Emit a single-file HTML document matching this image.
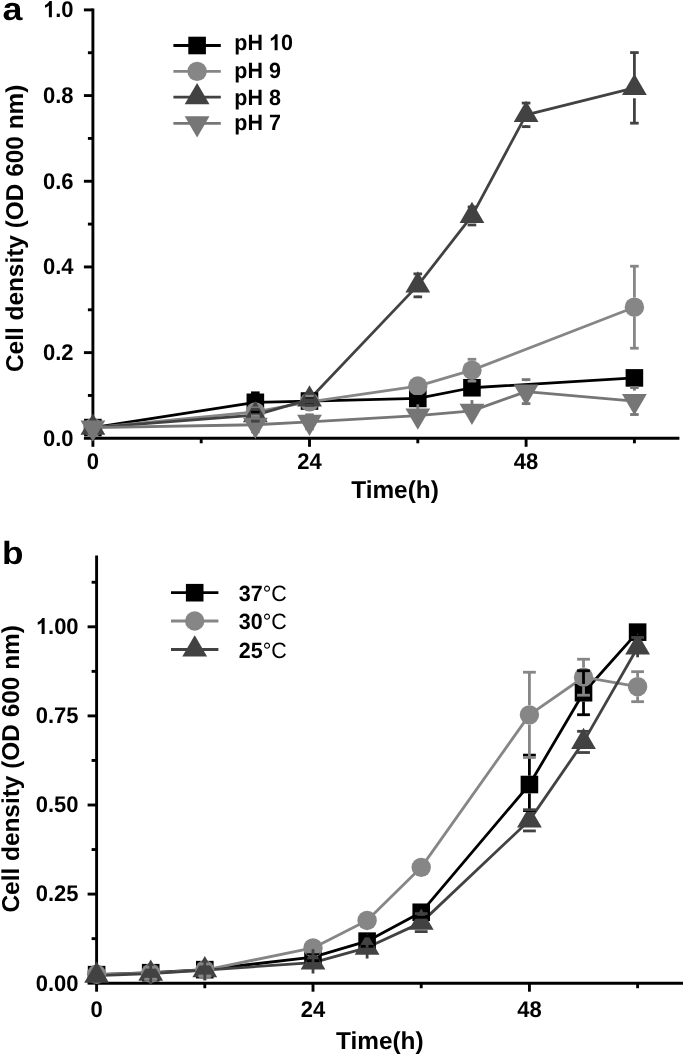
<!DOCTYPE html>
<html><head><meta charset="utf-8"><style>
html,body{margin:0;padding:0;background:#fff;}
svg{display:block;filter:grayscale(1);}
text{font-family:"Liberation Sans",sans-serif;fill:#000;text-rendering:geometricPrecision;}
.tl{font-size:22px;font-weight:bold;}
.lg{font-size:21.5px;font-weight:bold;}
.lgb{font-size:21.5px;font-weight:normal;}
.at{font-size:24.4px;font-weight:bold;}
.pl{font-size:32px;font-weight:bold;}
</style></head><body>
<svg width="685" height="1056" viewBox="0 0 685 1056">
<text transform="translate(2.6,19.9) scale(1.12,1)" class="pl">a</text>
<text transform="translate(2.0,564.3) scale(1.1,1)" class="pl">b</text>
<line x1="92.9" y1="8.6" x2="92.9" y2="439.75" stroke="#000" stroke-width="2.9"/>
<line x1="91.45" y1="438.3" x2="679.4" y2="438.3" stroke="#000" stroke-width="2.9"/>
<line x1="83.9" y1="438.3" x2="92.9" y2="438.3" stroke="#000" stroke-width="2.9"/>
<line x1="83.9" y1="352.62" x2="92.9" y2="352.62" stroke="#000" stroke-width="2.9"/>
<line x1="83.9" y1="266.94" x2="92.9" y2="266.94" stroke="#000" stroke-width="2.9"/>
<line x1="83.9" y1="181.26" x2="92.9" y2="181.26" stroke="#000" stroke-width="2.9"/>
<line x1="83.9" y1="95.58" x2="92.9" y2="95.58" stroke="#000" stroke-width="2.9"/>
<line x1="83.9" y1="9.9" x2="92.9" y2="9.9" stroke="#000" stroke-width="2.9"/>
<line x1="87.9" y1="395.46" x2="92.9" y2="395.46" stroke="#000" stroke-width="2.9"/>
<line x1="87.9" y1="309.78" x2="92.9" y2="309.78" stroke="#000" stroke-width="2.9"/>
<line x1="87.9" y1="224.1" x2="92.9" y2="224.1" stroke="#000" stroke-width="2.9"/>
<line x1="87.9" y1="138.42" x2="92.9" y2="138.42" stroke="#000" stroke-width="2.9"/>
<line x1="87.9" y1="52.74" x2="92.9" y2="52.74" stroke="#000" stroke-width="2.9"/>
<line x1="92.9" y1="438.3" x2="92.9" y2="446.8" stroke="#000" stroke-width="2.9"/>
<text transform="translate(92.9,469) scale(1,1.03)" text-anchor="middle" class="tl">0</text>
<line x1="309.5" y1="438.3" x2="309.5" y2="446.8" stroke="#000" stroke-width="2.9"/>
<text transform="translate(309.5,469) scale(1,1.03)" text-anchor="middle" class="tl">24</text>
<line x1="526.1" y1="438.3" x2="526.1" y2="446.8" stroke="#000" stroke-width="2.9"/>
<text transform="translate(526.1,469) scale(1,1.03)" text-anchor="middle" class="tl">48</text>
<line x1="201.2" y1="438.3" x2="201.2" y2="443.3" stroke="#000" stroke-width="2.9"/>
<line x1="417.8" y1="438.3" x2="417.8" y2="443.3" stroke="#000" stroke-width="2.9"/>
<line x1="634.4" y1="438.3" x2="634.4" y2="443.3" stroke="#000" stroke-width="2.9"/>
<text transform="translate(73.6,445.6) scale(1,1.03)" text-anchor="end" class="tl">0.0</text>
<text transform="translate(73.6,359.92) scale(1,1.03)" text-anchor="end" class="tl">0.2</text>
<text transform="translate(73.6,274.24) scale(1,1.03)" text-anchor="end" class="tl">0.4</text>
<text transform="translate(73.6,188.56) scale(1,1.03)" text-anchor="end" class="tl">0.6</text>
<text transform="translate(73.6,102.88) scale(1,1.03)" text-anchor="end" class="tl">0.8</text>
<path d="M825 0H544V1059Q390 915 181 846V1101Q291 1137 420 1238Q549 1339 597 1466H825Z" transform="translate(43.02,17.2) scale(0.010742,-0.011064)"/><text transform="translate(55.25,17.2) scale(1,1.03)" class="tl">.0</text>
<line x1="96.6" y1="555.6" x2="96.6" y2="984.65" stroke="#000" stroke-width="2.9"/>
<line x1="95.15" y1="983.2" x2="683" y2="983.2" stroke="#000" stroke-width="2.9"/>
<line x1="87.6" y1="983.2" x2="96.6" y2="983.2" stroke="#000" stroke-width="2.9"/>
<line x1="87.6" y1="894.1" x2="96.6" y2="894.1" stroke="#000" stroke-width="2.9"/>
<line x1="87.6" y1="805" x2="96.6" y2="805" stroke="#000" stroke-width="2.9"/>
<line x1="87.6" y1="715.9" x2="96.6" y2="715.9" stroke="#000" stroke-width="2.9"/>
<line x1="87.6" y1="626.8" x2="96.6" y2="626.8" stroke="#000" stroke-width="2.9"/>
<line x1="91.6" y1="938.65" x2="96.6" y2="938.65" stroke="#000" stroke-width="2.9"/>
<line x1="91.6" y1="849.55" x2="96.6" y2="849.55" stroke="#000" stroke-width="2.9"/>
<line x1="91.6" y1="760.45" x2="96.6" y2="760.45" stroke="#000" stroke-width="2.9"/>
<line x1="91.6" y1="671.35" x2="96.6" y2="671.35" stroke="#000" stroke-width="2.9"/>
<line x1="91.6" y1="582.25" x2="96.6" y2="582.25" stroke="#000" stroke-width="2.9"/>
<line x1="96.6" y1="983.2" x2="96.6" y2="991.7" stroke="#000" stroke-width="2.9"/>
<text transform="translate(96.6,1016.8) scale(1,1.03)" text-anchor="middle" class="tl">0</text>
<line x1="313.01" y1="983.2" x2="313.01" y2="991.7" stroke="#000" stroke-width="2.9"/>
<text transform="translate(313.01,1016.8) scale(1,1.03)" text-anchor="middle" class="tl">24</text>
<line x1="529.42" y1="983.2" x2="529.42" y2="991.7" stroke="#000" stroke-width="2.9"/>
<text transform="translate(529.42,1016.8) scale(1,1.03)" text-anchor="middle" class="tl">48</text>
<line x1="204.8" y1="983.2" x2="204.8" y2="988.2" stroke="#000" stroke-width="2.9"/>
<line x1="421.21" y1="983.2" x2="421.21" y2="988.2" stroke="#000" stroke-width="2.9"/>
<line x1="637.62" y1="983.2" x2="637.62" y2="988.2" stroke="#000" stroke-width="2.9"/>
<text transform="translate(78.6,990.5) scale(1,1.03)" text-anchor="end" class="tl">0.00</text>
<text transform="translate(78.6,901.4) scale(1,1.03)" text-anchor="end" class="tl">0.25</text>
<text transform="translate(78.6,812.3) scale(1,1.03)" text-anchor="end" class="tl">0.50</text>
<text transform="translate(78.6,723.2) scale(1,1.03)" text-anchor="end" class="tl">0.75</text>
<path d="M825 0H544V1059Q390 915 181 846V1101Q291 1137 420 1238Q549 1339 597 1466H825Z" transform="translate(35.79,634.1) scale(0.010742,-0.011064)"/><text transform="translate(48.02,634.1) scale(1,1.03)" class="tl">.00</text>
<polyline points="92.9,427.59 255.35,402.31 309.5,401.03 417.8,398.46 471.95,387.75 634.4,377.9" fill="none" stroke="#000000" stroke-width="2.8" stroke-linejoin="round"/>
<polyline points="92.9,427.59 255.35,411.95 309.5,401.89 417.8,386.04 471.95,370.18 634.4,307.21" fill="none" stroke="#868686" stroke-width="2.8" stroke-linejoin="round"/>
<polyline points="92.9,427.59 255.35,415.17 309.5,399.32 417.8,285.36 471.95,215.96 526.1,114.86 634.4,87.87" fill="none" stroke="#424242" stroke-width="2.8" stroke-linejoin="round"/>
<polyline points="92.9,427.59 255.35,424.76 309.5,421.81 417.8,415.59 471.95,410.88 526.1,391.6 634.4,401.03" fill="none" stroke="#767676" stroke-width="2.8" stroke-linejoin="round"/>
<rect x="84.1" y="418.79" width="17.6" height="17.6" fill="#000000"/>
<rect x="246.55" y="393.51" width="17.6" height="17.6" fill="#000000"/>
<rect x="300.7" y="392.23" width="17.6" height="17.6" fill="#000000"/>
<rect x="409" y="389.66" width="17.6" height="17.6" fill="#000000"/>
<rect x="463.15" y="378.95" width="17.6" height="17.6" fill="#000000"/>
<rect x="625.6" y="369.1" width="17.6" height="17.6" fill="#000000"/>
<circle cx="92.9" cy="427.59" r="9.7" fill="#868686"/>
<circle cx="255.35" cy="411.95" r="9.7" fill="#868686"/>
<circle cx="309.5" cy="401.89" r="9.7" fill="#868686"/>
<circle cx="417.8" cy="386.04" r="9.7" fill="#868686"/>
<circle cx="471.95" cy="370.18" r="9.7" fill="#868686"/>
<circle cx="634.4" cy="307.21" r="9.7" fill="#868686"/>
<polygon points="92.9,413.46 105.3,434.66 80.5,434.66" fill="#424242"/>
<polygon points="255.35,401.03 267.75,422.23 242.95,422.23" fill="#424242"/>
<polygon points="309.5,385.18 321.9,406.38 297.1,406.38" fill="#424242"/>
<polygon points="417.8,271.23 430.2,292.43 405.4,292.43" fill="#424242"/>
<polygon points="471.95,201.83 484.35,223.03 459.55,223.03" fill="#424242"/>
<polygon points="526.1,100.72 538.5,121.92 513.7,121.92" fill="#424242"/>
<polygon points="634.4,73.74 646.8,94.94 622,94.94" fill="#424242"/>
<polygon points="80.5,420.52 105.3,420.52 92.9,441.72" fill="#767676"/>
<polygon points="242.95,417.7 267.75,417.7 255.35,438.9" fill="#767676"/>
<polygon points="297.1,414.74 321.9,414.74 309.5,435.94" fill="#767676"/>
<polygon points="405.4,408.53 430.2,408.53 417.8,429.73" fill="#767676"/>
<polygon points="459.55,403.82 484.35,403.82 471.95,425.02" fill="#767676"/>
<polygon points="513.7,384.54 538.5,384.54 526.1,405.74" fill="#767676"/>
<polygon points="622,393.96 646.8,393.96 634.4,415.16" fill="#767676"/>
<line x1="255.35" y1="393.51" x2="255.35" y2="392.81" stroke="#000000" stroke-width="2.8"/><line x1="251.05" y1="392.81" x2="259.65" y2="392.81" stroke="#000000" stroke-width="2.8"/><line x1="255.35" y1="411.11" x2="255.35" y2="411.81" stroke="#000000" stroke-width="2.8"/><line x1="251.05" y1="411.81" x2="259.65" y2="411.81" stroke="#000000" stroke-width="2.8"/>
<line x1="305.2" y1="397.03" x2="313.8" y2="397.03" stroke="#000000" stroke-width="2.8"/><line x1="305.2" y1="405.03" x2="313.8" y2="405.03" stroke="#000000" stroke-width="2.8"/>
<line x1="413.5" y1="396.46" x2="422.1" y2="396.46" stroke="#000000" stroke-width="2.8"/><line x1="413.5" y1="400.46" x2="422.1" y2="400.46" stroke="#000000" stroke-width="2.8"/>
<line x1="467.65" y1="382.75" x2="476.25" y2="382.75" stroke="#000000" stroke-width="2.8"/><line x1="467.65" y1="392.75" x2="476.25" y2="392.75" stroke="#000000" stroke-width="2.8"/>
<line x1="630.1" y1="373.9" x2="638.7" y2="373.9" stroke="#000000" stroke-width="2.8"/><line x1="630.1" y1="381.9" x2="638.7" y2="381.9" stroke="#000000" stroke-width="2.8"/>
<line x1="251.05" y1="407.95" x2="259.65" y2="407.95" stroke="#868686" stroke-width="2.8"/><line x1="251.05" y1="415.95" x2="259.65" y2="415.95" stroke="#868686" stroke-width="2.8"/>
<line x1="305.2" y1="395.89" x2="313.8" y2="395.89" stroke="#868686" stroke-width="2.8"/><line x1="305.2" y1="407.89" x2="313.8" y2="407.89" stroke="#868686" stroke-width="2.8"/>
<line x1="413.5" y1="381.04" x2="422.1" y2="381.04" stroke="#868686" stroke-width="2.8"/><line x1="413.5" y1="391.04" x2="422.1" y2="391.04" stroke="#868686" stroke-width="2.8"/>
<line x1="471.95" y1="360.48" x2="471.95" y2="359.28" stroke="#868686" stroke-width="2.8"/><line x1="467.65" y1="359.28" x2="476.25" y2="359.28" stroke="#868686" stroke-width="2.8"/><line x1="471.95" y1="379.88" x2="471.95" y2="381.08" stroke="#868686" stroke-width="2.8"/><line x1="467.65" y1="381.08" x2="476.25" y2="381.08" stroke="#868686" stroke-width="2.8"/>
<line x1="634.4" y1="297.51" x2="634.4" y2="266.21" stroke="#868686" stroke-width="2.8"/><line x1="630.1" y1="266.21" x2="638.7" y2="266.21" stroke="#868686" stroke-width="2.8"/><line x1="634.4" y1="316.91" x2="634.4" y2="348.21" stroke="#868686" stroke-width="2.8"/><line x1="630.1" y1="348.21" x2="638.7" y2="348.21" stroke="#868686" stroke-width="2.8"/>
<line x1="251.05" y1="409.17" x2="259.65" y2="409.17" stroke="#424242" stroke-width="2.8"/><line x1="251.05" y1="421.17" x2="259.65" y2="421.17" stroke="#424242" stroke-width="2.8"/>
<line x1="305.2" y1="393.32" x2="313.8" y2="393.32" stroke="#424242" stroke-width="2.8"/><line x1="305.2" y1="405.32" x2="313.8" y2="405.32" stroke="#424242" stroke-width="2.8"/>
<line x1="417.8" y1="274.96" x2="417.8" y2="273.86" stroke="#424242" stroke-width="2.8"/><line x1="413.5" y1="273.86" x2="422.1" y2="273.86" stroke="#424242" stroke-width="2.8"/><line x1="417.8" y1="295.76" x2="417.8" y2="296.86" stroke="#424242" stroke-width="2.8"/><line x1="413.5" y1="296.86" x2="422.1" y2="296.86" stroke="#424242" stroke-width="2.8"/>
<line x1="467.65" y1="206.96" x2="476.25" y2="206.96" stroke="#424242" stroke-width="2.8"/><line x1="467.65" y1="224.96" x2="476.25" y2="224.96" stroke="#424242" stroke-width="2.8"/>
<line x1="526.1" y1="104.46" x2="526.1" y2="103.06" stroke="#424242" stroke-width="2.8"/><line x1="521.8" y1="103.06" x2="530.4" y2="103.06" stroke="#424242" stroke-width="2.8"/><line x1="526.1" y1="125.26" x2="526.1" y2="126.66" stroke="#424242" stroke-width="2.8"/><line x1="521.8" y1="126.66" x2="530.4" y2="126.66" stroke="#424242" stroke-width="2.8"/>
<line x1="634.4" y1="77.47" x2="634.4" y2="52.57" stroke="#424242" stroke-width="2.8"/><line x1="630.1" y1="52.57" x2="638.7" y2="52.57" stroke="#424242" stroke-width="2.8"/><line x1="634.4" y1="98.27" x2="634.4" y2="123.17" stroke="#424242" stroke-width="2.8"/><line x1="630.1" y1="123.17" x2="638.7" y2="123.17" stroke="#424242" stroke-width="2.8"/>
<line x1="251.05" y1="417.76" x2="259.65" y2="417.76" stroke="#767676" stroke-width="2.8"/><line x1="251.05" y1="431.76" x2="259.65" y2="431.76" stroke="#767676" stroke-width="2.8"/>
<line x1="305.2" y1="414.81" x2="313.8" y2="414.81" stroke="#767676" stroke-width="2.8"/><line x1="305.2" y1="428.81" x2="313.8" y2="428.81" stroke="#767676" stroke-width="2.8"/>
<line x1="417.8" y1="415.59" x2="417.8" y2="404.29" stroke="#767676" stroke-width="2.8"/>
<line x1="471.95" y1="410.88" x2="471.95" y2="400.08" stroke="#767676" stroke-width="2.8"/>
<line x1="526.1" y1="381.2" x2="526.1" y2="379.6" stroke="#767676" stroke-width="2.8"/><line x1="521.8" y1="379.6" x2="530.4" y2="379.6" stroke="#767676" stroke-width="2.8"/><line x1="526.1" y1="402" x2="526.1" y2="403.6" stroke="#767676" stroke-width="2.8"/><line x1="521.8" y1="403.6" x2="530.4" y2="403.6" stroke="#767676" stroke-width="2.8"/>
<line x1="634.4" y1="390.63" x2="634.4" y2="387.53" stroke="#767676" stroke-width="2.8"/><line x1="630.1" y1="387.53" x2="638.7" y2="387.53" stroke="#767676" stroke-width="2.8"/><line x1="634.4" y1="411.43" x2="634.4" y2="414.53" stroke="#767676" stroke-width="2.8"/><line x1="630.1" y1="414.53" x2="638.7" y2="414.53" stroke="#767676" stroke-width="2.8"/>
<polyline points="96.6,974.65 150.7,972.69 204.8,969.66 313.01,957.18 367.11,941.14 421.21,912.28 529.42,784.51 583.52,692.73 637.62,632.15" fill="none" stroke="#000000" stroke-width="2.8" stroke-linejoin="round"/>
<polyline points="96.6,974.29 150.7,973.22 204.8,970.01 313.01,947.88 367.11,920.47 421.21,867.37 529.42,714.83 583.52,677.23 637.62,686.68" fill="none" stroke="#868686" stroke-width="2.8" stroke-linejoin="round"/>
<polyline points="96.6,975.72 150.7,973.68 204.8,970.19 313.01,962.53 367.11,947.56 421.21,922.61 529.42,820.33 583.52,741.92 637.62,647.47" fill="none" stroke="#424242" stroke-width="2.8" stroke-linejoin="round"/>
<rect x="87.8" y="965.85" width="17.6" height="17.6" fill="#000000"/>
<rect x="141.9" y="963.89" width="17.6" height="17.6" fill="#000000"/>
<rect x="196" y="960.86" width="17.6" height="17.6" fill="#000000"/>
<rect x="304.21" y="948.38" width="17.6" height="17.6" fill="#000000"/>
<rect x="358.31" y="932.34" width="17.6" height="17.6" fill="#000000"/>
<rect x="412.41" y="903.48" width="17.6" height="17.6" fill="#000000"/>
<rect x="520.62" y="775.71" width="17.6" height="17.6" fill="#000000"/>
<rect x="574.72" y="683.93" width="17.6" height="17.6" fill="#000000"/>
<rect x="628.82" y="623.35" width="17.6" height="17.6" fill="#000000"/>
<circle cx="96.6" cy="974.29" r="9.7" fill="#868686"/>
<circle cx="150.7" cy="973.22" r="9.7" fill="#868686"/>
<circle cx="204.8" cy="970.01" r="9.7" fill="#868686"/>
<circle cx="313.01" cy="947.88" r="9.7" fill="#868686"/>
<circle cx="367.11" cy="920.47" r="9.7" fill="#868686"/>
<circle cx="421.21" cy="867.37" r="9.7" fill="#868686"/>
<circle cx="529.42" cy="714.83" r="9.7" fill="#868686"/>
<circle cx="583.52" cy="677.23" r="9.7" fill="#868686"/>
<circle cx="637.62" cy="686.68" r="9.7" fill="#868686"/>
<polygon points="96.6,961.58 109,982.78 84.2,982.78" fill="#424242"/>
<polygon points="150.7,959.55 163.1,980.75 138.3,980.75" fill="#424242"/>
<polygon points="204.8,956.06 217.2,977.26 192.4,977.26" fill="#424242"/>
<polygon points="313.01,948.4 325.41,969.6 300.61,969.6" fill="#424242"/>
<polygon points="367.11,933.43 379.51,954.63 354.71,954.63" fill="#424242"/>
<polygon points="421.21,908.48 433.61,929.68 408.81,929.68" fill="#424242"/>
<polygon points="529.42,806.19 541.82,827.39 517.02,827.39" fill="#424242"/>
<polygon points="583.52,727.78 595.92,748.98 571.12,748.98" fill="#424242"/>
<polygon points="637.62,633.34 650.02,654.54 625.22,654.54" fill="#424242"/>
<line x1="306.61" y1="953.68" x2="319.41" y2="953.68" stroke="#000000" stroke-width="2.8"/><line x1="306.61" y1="960.68" x2="319.41" y2="960.68" stroke="#000000" stroke-width="2.8"/>
<line x1="360.71" y1="935.94" x2="373.51" y2="935.94" stroke="#000000" stroke-width="2.8"/><line x1="360.71" y1="946.34" x2="373.51" y2="946.34" stroke="#000000" stroke-width="2.8"/>
<line x1="414.81" y1="907.28" x2="427.61" y2="907.28" stroke="#000000" stroke-width="2.8"/><line x1="414.81" y1="917.28" x2="427.61" y2="917.28" stroke="#000000" stroke-width="2.8"/>
<line x1="529.42" y1="775.71" x2="529.42" y2="755.11" stroke="#000000" stroke-width="2.8"/><line x1="523.02" y1="755.11" x2="535.82" y2="755.11" stroke="#000000" stroke-width="2.8"/><line x1="529.42" y1="793.31" x2="529.42" y2="810.61" stroke="#000000" stroke-width="2.8"/><line x1="523.02" y1="810.61" x2="535.82" y2="810.61" stroke="#000000" stroke-width="2.8"/>
<line x1="583.52" y1="683.93" x2="583.52" y2="670.73" stroke="#000000" stroke-width="2.8"/><line x1="577.12" y1="670.73" x2="589.92" y2="670.73" stroke="#000000" stroke-width="2.8"/><line x1="583.52" y1="701.53" x2="583.52" y2="714.73" stroke="#000000" stroke-width="2.8"/><line x1="577.12" y1="714.73" x2="589.92" y2="714.73" stroke="#000000" stroke-width="2.8"/>
<line x1="631.22" y1="628.15" x2="644.02" y2="628.15" stroke="#000000" stroke-width="2.8"/><line x1="631.22" y1="636.15" x2="644.02" y2="636.15" stroke="#000000" stroke-width="2.8"/>
<line x1="144.3" y1="967.22" x2="157.1" y2="967.22" stroke="#868686" stroke-width="2.8"/><line x1="144.3" y1="979.22" x2="157.1" y2="979.22" stroke="#868686" stroke-width="2.8"/>
<line x1="198.4" y1="964.01" x2="211.2" y2="964.01" stroke="#868686" stroke-width="2.8"/><line x1="198.4" y1="976.01" x2="211.2" y2="976.01" stroke="#868686" stroke-width="2.8"/>
<line x1="306.61" y1="943.88" x2="319.41" y2="943.88" stroke="#868686" stroke-width="2.8"/><line x1="306.61" y1="951.88" x2="319.41" y2="951.88" stroke="#868686" stroke-width="2.8"/>
<line x1="360.71" y1="916.47" x2="373.51" y2="916.47" stroke="#868686" stroke-width="2.8"/><line x1="360.71" y1="924.47" x2="373.51" y2="924.47" stroke="#868686" stroke-width="2.8"/>
<line x1="414.81" y1="863.37" x2="427.61" y2="863.37" stroke="#868686" stroke-width="2.8"/><line x1="414.81" y1="871.37" x2="427.61" y2="871.37" stroke="#868686" stroke-width="2.8"/>
<line x1="529.42" y1="705.13" x2="529.42" y2="672.23" stroke="#868686" stroke-width="2.8"/><line x1="523.02" y1="672.23" x2="535.82" y2="672.23" stroke="#868686" stroke-width="2.8"/><line x1="529.42" y1="724.53" x2="529.42" y2="757.43" stroke="#868686" stroke-width="2.8"/><line x1="523.02" y1="757.43" x2="535.82" y2="757.43" stroke="#868686" stroke-width="2.8"/>
<line x1="583.52" y1="667.53" x2="583.52" y2="659.23" stroke="#868686" stroke-width="2.8"/><line x1="577.12" y1="659.23" x2="589.92" y2="659.23" stroke="#868686" stroke-width="2.8"/><line x1="583.52" y1="686.93" x2="583.52" y2="695.23" stroke="#868686" stroke-width="2.8"/><line x1="577.12" y1="695.23" x2="589.92" y2="695.23" stroke="#868686" stroke-width="2.8"/>
<line x1="637.62" y1="676.98" x2="637.62" y2="671.68" stroke="#868686" stroke-width="2.8"/><line x1="631.22" y1="671.68" x2="644.02" y2="671.68" stroke="#868686" stroke-width="2.8"/><line x1="637.62" y1="696.38" x2="637.62" y2="701.68" stroke="#868686" stroke-width="2.8"/><line x1="631.22" y1="701.68" x2="644.02" y2="701.68" stroke="#868686" stroke-width="2.8"/>
<line x1="150.7" y1="973.68" x2="150.7" y2="962.98" stroke="#424242" stroke-width="2.8"/><line x1="150.7" y1="973.68" x2="150.7" y2="984.38" stroke="#424242" stroke-width="2.8"/>
<line x1="204.8" y1="970.19" x2="204.8" y2="959.89" stroke="#424242" stroke-width="2.8"/><line x1="204.8" y1="970.19" x2="204.8" y2="980.49" stroke="#424242" stroke-width="2.8"/>
<line x1="313.01" y1="962.53" x2="313.01" y2="949.53" stroke="#424242" stroke-width="2.8"/><line x1="313.01" y1="962.53" x2="313.01" y2="973.53" stroke="#424242" stroke-width="2.8"/>
<line x1="367.11" y1="947.56" x2="367.11" y2="938.56" stroke="#424242" stroke-width="2.8"/><line x1="367.11" y1="947.56" x2="367.11" y2="958.56" stroke="#424242" stroke-width="2.8"/>
<line x1="414.81" y1="913.61" x2="427.61" y2="913.61" stroke="#424242" stroke-width="2.8"/><line x1="414.81" y1="931.61" x2="427.61" y2="931.61" stroke="#424242" stroke-width="2.8"/>
<line x1="529.42" y1="809.93" x2="529.42" y2="809.73" stroke="#424242" stroke-width="2.8"/><line x1="523.02" y1="809.73" x2="535.82" y2="809.73" stroke="#424242" stroke-width="2.8"/><line x1="529.42" y1="830.73" x2="529.42" y2="830.93" stroke="#424242" stroke-width="2.8"/><line x1="523.02" y1="830.93" x2="535.82" y2="830.93" stroke="#424242" stroke-width="2.8"/>
<line x1="583.52" y1="731.52" x2="583.52" y2="731.32" stroke="#424242" stroke-width="2.8"/><line x1="577.12" y1="731.32" x2="589.92" y2="731.32" stroke="#424242" stroke-width="2.8"/><line x1="583.52" y1="752.32" x2="583.52" y2="752.52" stroke="#424242" stroke-width="2.8"/><line x1="577.12" y1="752.52" x2="589.92" y2="752.52" stroke="#424242" stroke-width="2.8"/>
<line x1="631.22" y1="637.47" x2="644.02" y2="637.47" stroke="#424242" stroke-width="2.8"/><line x1="637.62" y1="647.47" x2="637.62" y2="657.27" stroke="#424242" stroke-width="2.8"/>
<line x1="173.4" y1="45.5" x2="220.8" y2="45.5" stroke="#000000" stroke-width="2.8"/>
<rect x="188.3" y="36.7" width="17.6" height="17.6" fill="#000000"/>
<text transform="translate(234.3,50.2) scale(1,1.03)" class="lg">pH </text><path d="M825 0H544V1059Q390 915 181 846V1101Q291 1137 420 1238Q549 1339 597 1466H825Z" transform="translate(268.94,50.2) scale(0.010498,-0.010813)"/><text transform="translate(280.89,50.2) scale(1,1.03)" class="lg">0</text>
<line x1="173.4" y1="71.4" x2="220.8" y2="71.4" stroke="#868686" stroke-width="2.8"/>
<circle cx="197.1" cy="71.4" r="9.7" fill="#868686"/>
<text transform="translate(234.3,77.9) scale(1,1.03)" class="lg">pH 9</text>
<line x1="173.4" y1="97.2" x2="220.8" y2="97.2" stroke="#424242" stroke-width="2.8"/>
<polygon points="197.1,83.07 209.5,104.27 184.7,104.27" fill="#424242"/>
<text transform="translate(234.3,105) scale(1,1.03)" class="lg">pH 8</text>
<line x1="173.4" y1="123.3" x2="220.8" y2="123.3" stroke="#767676" stroke-width="2.8"/>
<polygon points="184.7,116.23 209.5,116.23 197.1,137.43" fill="#767676"/>
<text transform="translate(234.3,130.1) scale(1,1.03)" class="lg">pH 7</text>
<line x1="171" y1="592.7" x2="218.4" y2="592.7" stroke="#000000" stroke-width="2.8"/>
<rect x="185.9" y="583.9" width="17.6" height="17.6" fill="#000000"/>
<text transform="translate(238.8,601.2) scale(1,1.03)" class="lgb"><tspan font-weight="bold">37</tspan>°C</text>
<line x1="171" y1="621" x2="218.4" y2="621" stroke="#868686" stroke-width="2.8"/>
<circle cx="194.7" cy="621" r="9.7" fill="#868686"/>
<text transform="translate(238.8,628.9) scale(1,1.03)" class="lgb"><tspan font-weight="bold">30</tspan>°C</text>
<line x1="171" y1="649.5" x2="218.4" y2="649.5" stroke="#424242" stroke-width="2.8"/>
<polygon points="194.7,635.37 207.1,656.57 182.3,656.57" fill="#424242"/>
<text transform="translate(238.8,658) scale(1,1.03)" class="lgb"><tspan font-weight="bold">25</tspan>°C</text>
<text transform="translate(22.8,372.0) rotate(-90)" class="at">Cell density (OD 600 nm)</text>
<text transform="translate(19.4,912.5) rotate(-90)" class="at">Cell density (OD 600 nm)</text>
<text transform="translate(395,497.7) scale(1,1.0)" text-anchor="middle" class="at">Time(h)</text>
<text transform="translate(379.8,1049) scale(1,1.0)" text-anchor="middle" class="at">Time(h)</text>
</svg>
</body></html>
